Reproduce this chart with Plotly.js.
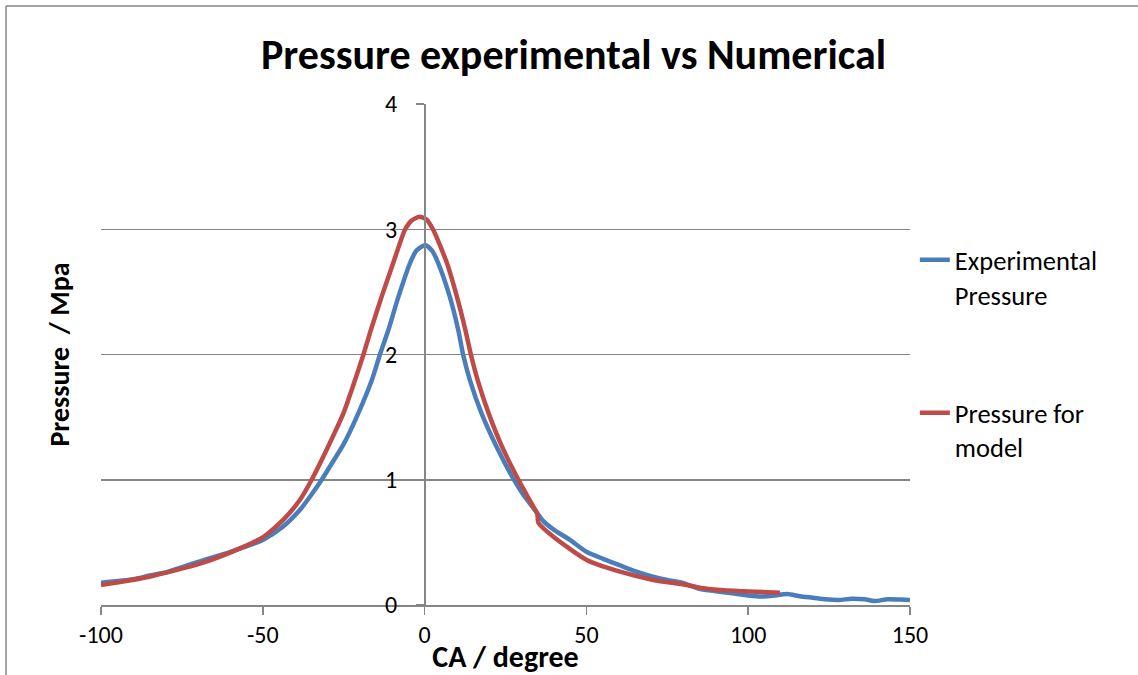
<!DOCTYPE html>
<html>
<head>
<meta charset="utf-8">
<script src="https://cdn.plot.ly/plotly-3.0.1.min.js"></script>
<style>
html,body{margin:0;padding:0;background:#fff;}
#chart{width:1138px;height:675px;}
</style>
</head>
<body>
<div id="chart"></div>
<script>
// Experimental pressure (MPa) vs crank angle (degree)
const expAngle = [-100,-90,-85,-80,-70,-60,-50,-44,-38.5,-35,-31.8,-28.2,-25.1,-20.5,-16.3,-13.8,-11.2,-8.1,-4.5,-2.5,0.2,2.3,4.2,7.8,10.4,11.9,14.0,17.6,22.2,27.6,30.5,33.6,36.7,40,44.9,50,55,60,65,70,75,80,85,90,95,100,104,108,112,116,120,124,128,132,136,139,143,147,150];
const expPressure = [0.178,0.205,0.235,0.26,0.345,0.425,0.52,0.62,0.76,0.88,1.0,1.15,1.28,1.53,1.796,2.0,2.196,2.46,2.73,2.83,2.875,2.83,2.73,2.46,2.196,2.0,1.796,1.53,1.266,1.0,0.88,0.775,0.67,0.60,0.52,0.425,0.37,0.32,0.27,0.23,0.20,0.175,0.13,0.11,0.093,0.075,0.067,0.075,0.088,0.07,0.058,0.045,0.04,0.05,0.045,0.032,0.045,0.043,0.04];

// Model pressure (MPa) vs crank angle (degree)
const modelAngle = [-100,-85,-69.4,-59,-50,-43.7,-38.5,-34.9,-29.8,-25.1,-21.5,-18.9,-16.6,-13.3,-9.7,-6.1,-4,-1.6,0.5,2.7,6.9,10.0,12.6,14.3,16.4,19.8,23.9,29.0,33.6,34.8,35.2,39.8,50.1,60.4,70.7,81,85,91.3,100,109.8];
const modelPressure = [0.16,0.226,0.33,0.43,0.54,0.68,0.84,1.0,1.266,1.53,1.796,2.0,2.196,2.46,2.73,2.994,3.07,3.10,3.08,2.994,2.73,2.46,2.196,2.0,1.796,1.53,1.266,1.0,0.785,0.73,0.655,0.545,0.36,0.266,0.2,0.16,0.138,0.12,0.108,0.098];

const seriesNames = ['Experimental<br>Pressure', 'Pressure for<br>model'];
const xTicks = [-100,-50,0,50,100,150];
const yTicks = [0,1,2,3,4];

const FONT = 'Carlito, Calibri, Lato, "Open Sans", sans-serif';
const GRID = '#868686';

const traces = [
  {x: expAngle, y: expPressure, type: 'scatter', mode: 'lines', name: seriesNames[0],
   legendgroup: 'a', line: {color: '#4A7EBB', width: 4.5, shape: 'spline', smoothing: 0.6}},
  {x: modelAngle, y: modelPressure, type: 'scatter', mode: 'lines', name: seriesNames[1],
   legendgroup: 'b', line: {color: '#BE4B48', width: 4.5, shape: 'spline', smoothing: 0.6}}
];

const layout = {
  width: 1138, height: 675,
  margin: {l: 101, r: 228, t: 104, b: 70},
  paper_bgcolor: '#ffffff', plot_bgcolor: '#ffffff',
  font: {family: FONT, color: '#000000', size: 24},
  title: {text: '<b>Pressure experimental vs Numerical</b>', x: 0.504, xanchor: 'center',
          y: 0.919, yanchor: 'middle', yref: 'container',
          font: {family: FONT, size: 42, color: '#000000'}},
  xaxis: {range: [-100, 150], tickvals: xTicks, ticktext: xTicks.map(String),
          showgrid: false, zeroline: false, showline: true, linecolor: GRID, linewidth: 1.5,
          ticks: 'outside', ticklen: 8, tickwidth: 1.5, tickcolor: GRID,
          tickfont: {family: FONT, size: 24, color: '#000'},
          title: {text: '<b>CA / degree</b>', standoff: 0, font: {family: FONT, size: 30, color: '#000'}},
          automargin: false},
  yaxis: {range: [0, 4], tickvals: yTicks, showticklabels: false, ticks: '',
          showgrid: true, gridcolor: GRID, gridwidth: 1.5, zeroline: false, showline: false,
          title: {text: '<b>Pressure \u00a0/ Mpa</b>', standoff: 22, font: {family: FONT, size: 28, color: '#000'}},
          automargin: false},
  yaxis2: {range: [0, 4], tickvals: yTicks, ticktext: yTicks.map(String), overlaying: 'y',
           anchor: 'free', position: 0.3993, side: 'left',
           showgrid: false, zeroline: false, showline: true, linecolor: GRID, linewidth: 1.5,
           ticks: 'outside', ticklen: 8, tickwidth: 1.5, tickcolor: GRID, ticklabelstandoff: 14,
           tickfont: {family: FONT, size: 24, color: '#000'}, automargin: false},
  showlegend: true,
  legend: {x: 1.006, xanchor: 'left', y: 0.7365, yanchor: 'top', traceorder: 'grouped',
           tracegroupgap: 81, valign: 'top', bgcolor: 'rgba(0,0,0,0)',
           font: {family: FONT, size: 26.5, color: '#000'}},
  shapes: [
    {type: 'line', xref: 'paper', yref: 'paper', x0: -0.1174, x1: -0.1174, y0: -0.3, y1: 1.1956,
     line: {color: GRID, width: 1.5}},
    {type: 'line', xref: 'paper', yref: 'paper', x0: -0.1174, x1: 1.5, y0: 1.1956, y1: 1.1956,
     line: {color: GRID, width: 1.5}}
  ]
};

// invisible helper trace so the y-axis drawn through x = 0 is rendered
traces.push({x: [0], y: [0], yaxis: 'y2', type: 'scatter', mode: 'markers',
             marker: {opacity: 0}, showlegend: false, hoverinfo: 'skip'});

Plotly.newPlot('chart', traces, layout, {displayModeBar: false, staticPlot: true});
</script>
</body>
</html>
